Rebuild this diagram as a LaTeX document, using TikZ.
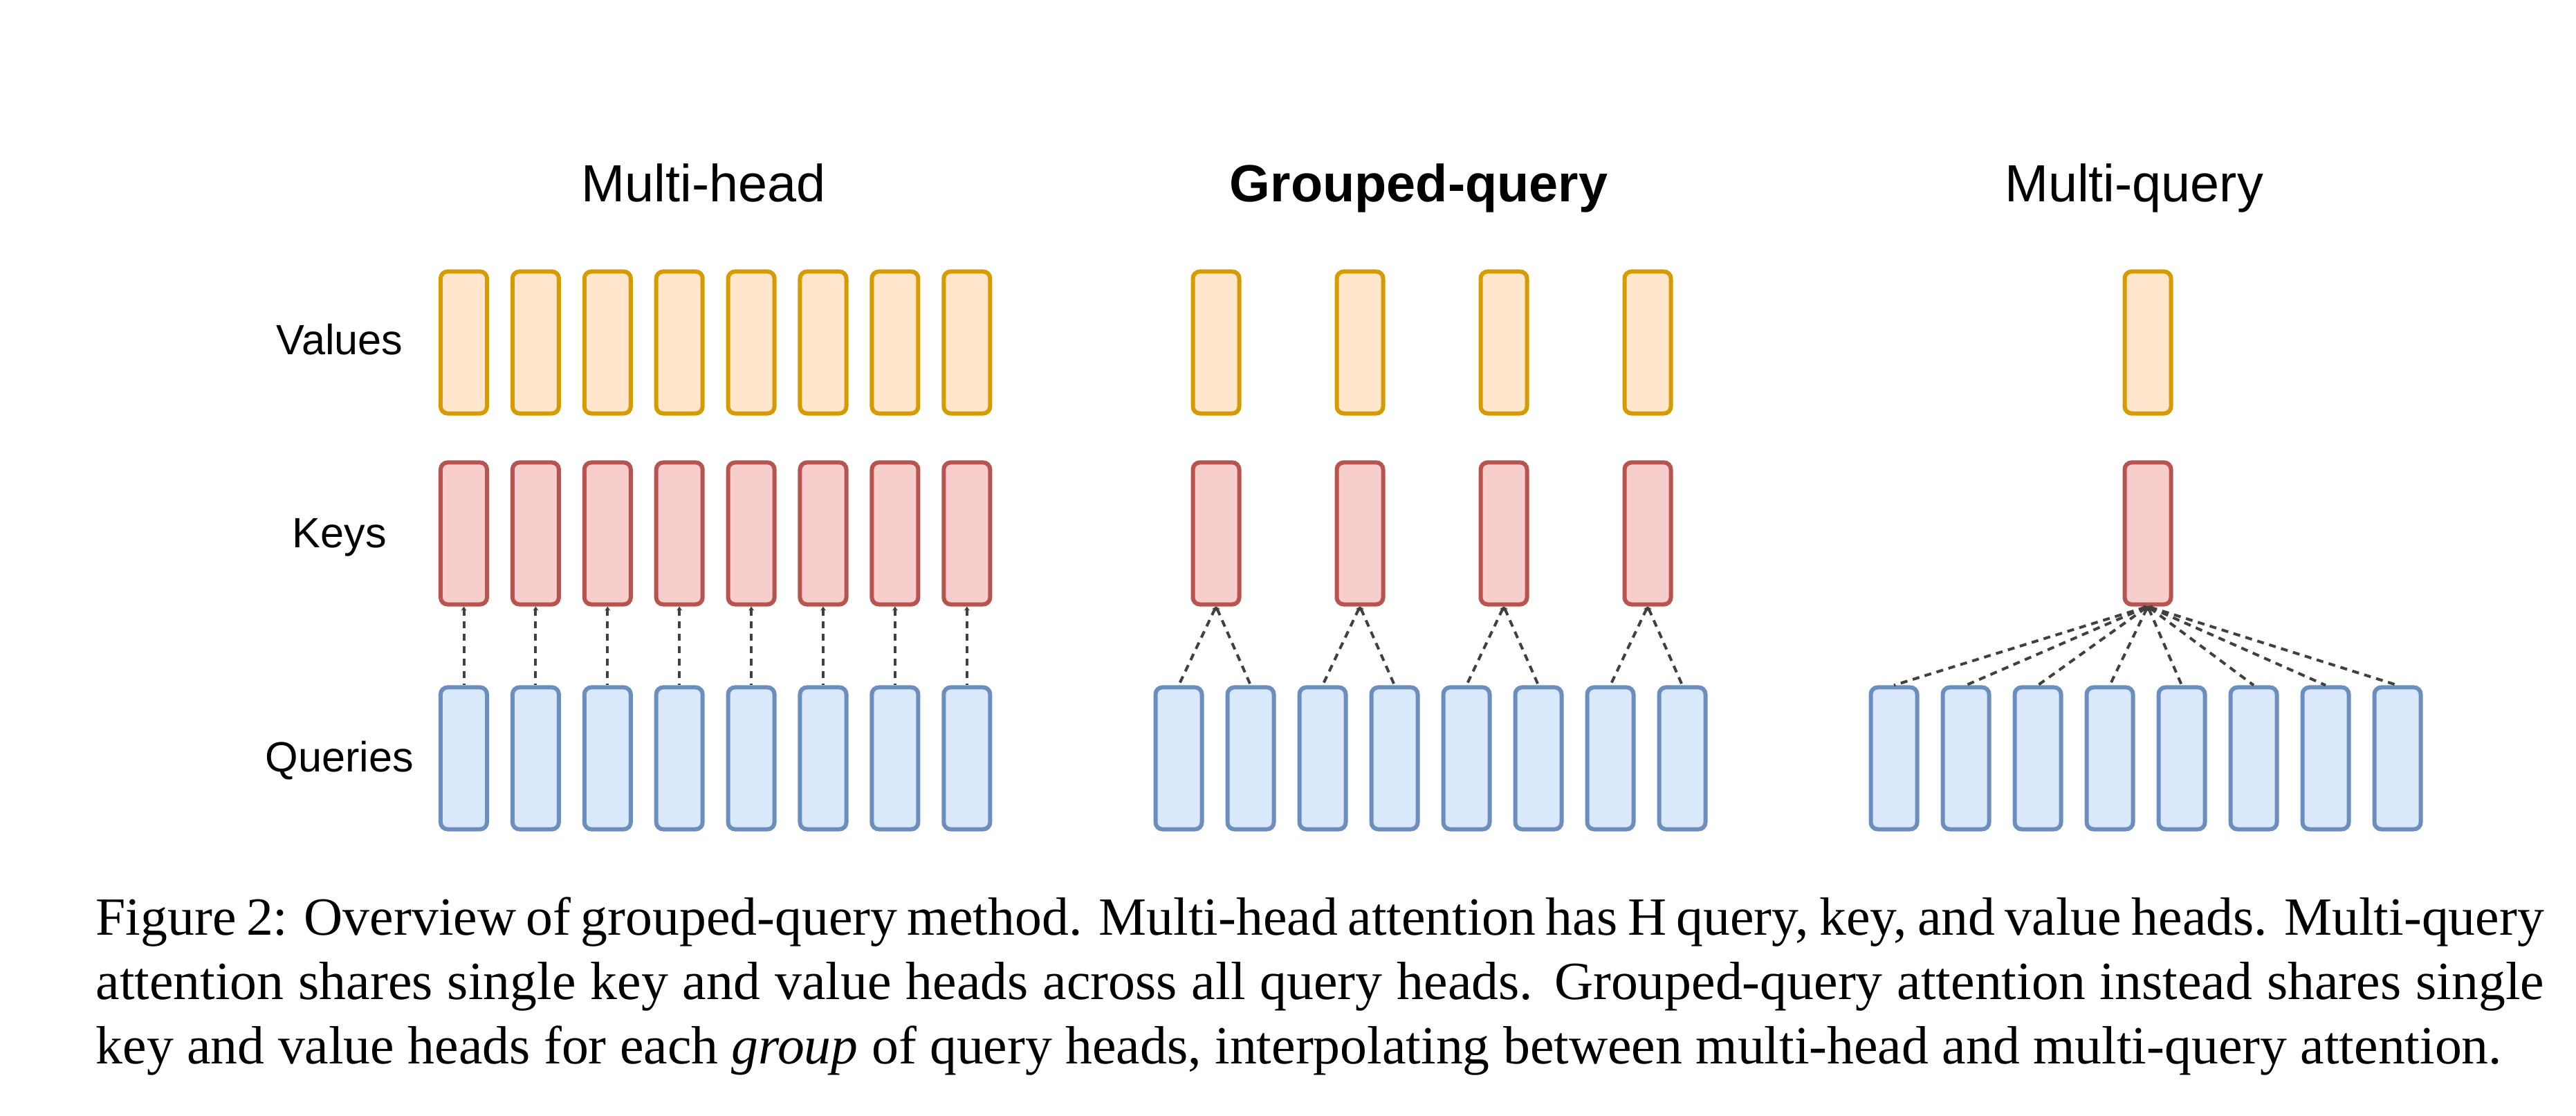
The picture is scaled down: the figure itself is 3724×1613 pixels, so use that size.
\documentclass[tikz,border=0pt]{standalone}
\usepackage{fontspec}
\setmainfont{Liberation Serif}
\setsansfont{Liberation Sans}
\usetikzlibrary{positioning}
\usetikzlibrary{arrows.meta}

\definecolor{valdraw}{HTML}{D79B00}
\definecolor{valfill}{HTML}{FFE6CC}
\definecolor{keydraw}{HTML}{B85450}
\definecolor{keyfill}{HTML}{F8CECC}
\definecolor{qrydraw}{HTML}{6C8EBF}
\definecolor{qryfill}{HTML}{DAE8FC}
\newlength{\capw}
\setlength{\capw}{35.37cm}

\begin{document}
\begin{tikzpicture}[x=0.01cm,y=-0.01cm,
    head/.style={draw,rounded corners=0.1cm,line width=0.06cm,minimum width=0.67cm,minimum height=2.05cm,inner sep=0pt},
    val/.style={head,draw=valdraw,fill=valfill},
    key/.style={head,draw=keydraw,fill=keyfill},
    qry/.style={head,draw=qrydraw,fill=qryfill},
    link/.style={draw=black!75,line width=0.04cm,dash pattern=on 0.1cm off 0.08cm,{Stealth[length=0.06cm,width=0.08cm]}-},
    title/.style={font=\sffamily\fontsize{21.5}{26}\selectfont,anchor=base},
    rowlabel/.style={font=\sffamily\fontsize{17.4}{21}\selectfont,anchor=base},
    caption/.style={font=\fontsize{22.1}{26.5}\selectfont,inner sep=0pt,anchor=base west}]
    \useasboundingbox (0,0) rectangle (3724,1613);

    % titles and row labels
    \node[title] (mhT) at (1017,292) {Multi-head};
    \node[title,font=\sffamily\bfseries\fontsize{21.5}{26}\selectfont] (gqT) at (2051,292) {Grouped-query};
    \node[title] (mqT) at (3085,292) {Multi-query};
    \node[rowlabel] (lblV) at (491,513) {Values};
    \node[rowlabel] (lblK) at (491,792) {Keys};
    \node[rowlabel] (lblQ) at (491,1116) {Queries};

    % multi-head
    \foreach \i in {1,...,8} {
        \node[val] (mhV\i) at ({670.5+103.9*(\i-1)},495) {};
        \node[key] (mhK\i) at ({670.5+103.9*(\i-1)},771) {};
        \node[qry] (mhQ\i) at ({670.5+103.9*(\i-1)},1096) {};
        \draw[link] (mhK\i.south) -- (mhQ\i.north);
    }

    % grouped-query
    \foreach \j in {1,...,4} {
        \node[val] (gqV\j) at ({1758+208*(\j-1)},495) {};
        \node[key] (gqK\j) at ({1758+208*(\j-1)},771) {};
    }
    \foreach \i [evaluate=\i as \j using {int((\i+1)/2)}] in {1,...,8} {
        \node[qry] (gqQ\i) at ({1704+104*(\i-1)},1096) {};
        \draw[link] (gqK\j.south) -- (gqQ\i.north);
    }

    % multi-query
    \node[val] (mqV) at (3105,495) {};
    \node[key] (mqK) at (3105,771) {};
    \foreach \i in {1,...,8} {
        \node[qry] (mqQ\i) at ({2738+104*(\i-1)},1096) {};
        \draw[link] (mqK.south) -- (mqQ\i.north);
    }

    % caption
    \node[caption] (cap1) at (138,1351) {\makebox[\capw][s]{Figure 2: Overview of grouped-query method. Multi-head attention has H query, key, and value heads. Multi-query}};
    \node[caption] (cap2) at (138,1444) {\makebox[\capw][s]{attention shares single key and value heads across all query heads. Grouped-query attention instead shares single}};
    \node[caption] (cap3) at (138,1537) {key and value heads for each \emph{group} of query heads, interpolating between multi-head and multi-query attention.};
\end{tikzpicture}
\end{document}
